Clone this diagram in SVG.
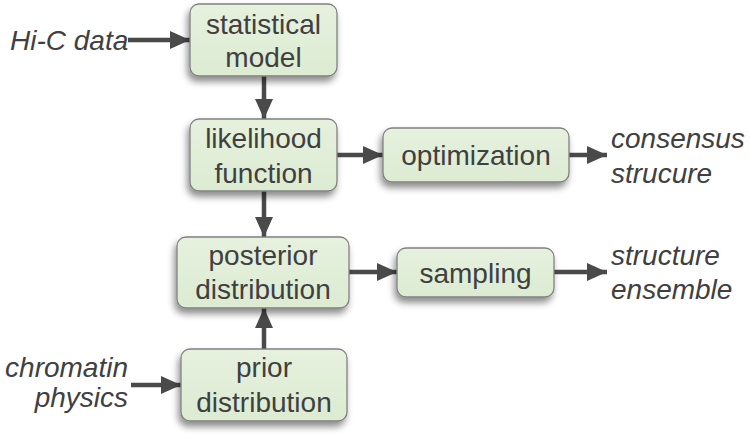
<svg xmlns="http://www.w3.org/2000/svg" width="750" height="437" viewBox="0 0 750 437">
<defs>
<linearGradient id="g" x1="0" y1="0" x2="0" y2="1"><stop offset="0" stop-color="#e6f1de"/><stop offset="1" stop-color="#dcebd2"/></linearGradient>
<filter id="sh" x="-20%" y="-20%" width="140%" height="160%"><feDropShadow dx="-2" dy="5" stdDeviation="3.5" flood-color="#000" flood-opacity="0.45"/></filter>
<marker id="ah" markerUnits="userSpaceOnUse" markerWidth="22" markerHeight="20" refX="20" refY="10" orient="auto"><polygon points="0,1 20,10 0,19" fill="#4a4a4a"/></marker>
<style>
.box{fill:url(#g);stroke:#808080;stroke-width:1.3;filter:url(#sh)}
.t{font-family:"Liberation Sans",Arial,sans-serif;font-size:28px;fill:#404040;text-anchor:middle}
.i{font-family:"Liberation Sans",Arial,sans-serif;font-size:28px;fill:#404040;font-style:italic}
.c{stroke:#4a4a4a;stroke-width:4.5;fill:none;marker-end:url(#ah)}
</style>
</defs>
<g id="connectors">
<line class="c" x1="128" y1="40" x2="190" y2="40"/>
<line class="c" x1="264" y1="76" x2="264" y2="119"/>
<line class="c" x1="337" y1="155" x2="383" y2="155"/>
<line class="c" x1="569" y1="155" x2="607" y2="155"/>
<line class="c" x1="264" y1="191" x2="264" y2="237"/>
<line class="c" x1="349" y1="272" x2="397" y2="272"/>
<line class="c" x1="554" y1="272" x2="607" y2="272"/>
<line class="c" x1="131" y1="385" x2="181" y2="385"/>
<line class="c" x1="264" y1="349" x2="264" y2="308"/>
</g>
<g id="statistical-model"><rect class="box" x="190" y="4" width="147" height="72" rx="9"/><text class="t" x="263.5" y="34">statistical</text><text class="t" x="263.5" y="67">model</text></g>
<g id="likelihood-function"><rect class="box" x="190" y="119" width="147" height="72" rx="9"/><text class="t" x="263.5" y="148">likelihood</text><text class="t" x="263.5" y="183">function</text></g>
<g id="optimization"><rect class="box" x="383" y="128" width="186" height="54" rx="9"/><text class="t" x="476" y="165">optimization</text></g>
<g id="posterior-distribution"><rect class="box" x="177" y="237" width="172" height="71" rx="9"/><text class="t" x="263" y="265">posterior</text><text class="t" x="263" y="299">distribution</text></g>
<g id="sampling"><rect class="box" x="397" y="248" width="157" height="49" rx="9"/><text class="t" x="475.5" y="283">sampling</text></g>
<g id="prior-distribution"><rect class="box" x="181" y="349" width="166" height="72" rx="9"/><text class="t" x="264" y="377">prior</text><text class="t" x="264" y="412">distribution</text></g>
<g id="hic-data"><text class="i" x="10" y="50">Hi-C data</text></g>
<g id="consensus-structure"><text class="i" x="611" y="148">consensus</text><text class="i" x="611" y="183">strucure</text></g>
<g id="structure-ensemble"><text class="i" x="611" y="265">structure</text><text class="i" x="611" y="299">ensemble</text></g>
<g id="chromatin-physics"><text class="i" x="128" y="377" text-anchor="end">chromatin</text><text class="i" x="128" y="407" text-anchor="end">physics</text></g>
</svg>
